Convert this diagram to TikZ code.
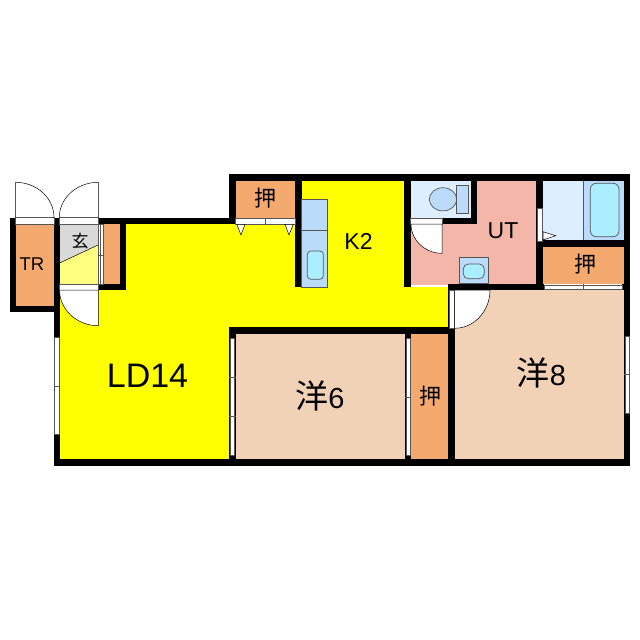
\documentclass[tikz,border=0pt]{standalone}
\usepackage{fontspec}
\setmainfont{Liberation Sans}
\newfontfamily\cjk{Noto Sans CJK JP}
\definecolor{ldyellow}{HTML}{FFFF00}
\definecolor{paleyellow}{HTML}{FFFF80}
\definecolor{closet}{HTML}{F4AA6E}
\definecolor{peach}{HTML}{F2D2B6}
\definecolor{pinkroom}{HTML}{F4B6A8}
\definecolor{grayfloor}{HTML}{D9D9D9}
\definecolor{palefloor}{HTML}{DDEFFF}
\definecolor{fixture}{HTML}{BBDBFB}
\definecolor{basin}{HTML}{AAEEFF}
\definecolor{linegray}{HTML}{555555}
\tikzset{
  wall/.style={fill=black,draw=none},
  fixt/.style={fill=fixture,draw=linegray,line width=.7pt},
  bowl/.style={fill=basin,draw=linegray,line width=.7pt,rounded corners=3.5pt},
  doorleaf/.style={fill=white,draw=black,line width=.5pt},
  opening/.style={fill=white,draw=linegray,line width=.5pt},
  sash/.style={fill=white,draw=linegray,line width=1pt},
  label/.style={inner sep=0pt,text=black,font=\fontsize{#1}{#1}\selectfont},
  label/.default=21
}
\begin{document}
\begin{tikzpicture}[x=1pt,y=-1pt]
\useasboundingbox (0,0) rectangle (640,640);
% floors
\fill[ldyellow] (60,284) -- (126,284) -- (126,224) -- (295,224) -- (295,181) -- (404,181) -- (404,287) -- (449,287) -- (449,330) -- (232,330) -- (232,459) -- (60,459) -- cycle;
\fill[closet] (16,224) rectangle (54,306);
\fill[closet] (104,224) rectangle (120,284);
\fill[closet] (235,180) rectangle (296,219);
\fill[closet] (411,334) rectangle (449,459);
\fill[closet] (543,246) rectangle (624,284);
\fill[grayfloor] (59,224) rectangle (98,284);
\fill[paleyellow] (59,263.3) -- (98,245) -- (98,284) -- (59,284) -- cycle;
\draw[black,line width=.5pt] (59,263.3) -- (98,245);
\fill[peach] (235,334) rectangle (406,459);
\fill[peach] (455,290) rectangle (625,459);
\fill[pinkroom] (411,180) rectangle (537,285);
\fill[palefloor] (411,180) rectangle (471,218);
\fill[palefloor] (543,180) rectangle (583.5,240);
\fill[fixture] (583.5,180) rectangle (624,240);
\draw[linegray,line width=.7pt] (583.5,181) -- (583.5,240);
% walls
\fill[wall] (9.5,217.5) rectangle (16,312.3);
\fill[wall] (9.5,306) rectangle (60,312.3);
\fill[wall] (53.5,217.5) rectangle (60,337);
\fill[wall] (98,217.5) rectangle (235.7,224);
\fill[wall] (119.7,217.5) rectangle (126,290);
\fill[wall] (98,284) rectangle (126,290);
\fill[wall] (229,174) rectangle (630,180.7);
\fill[wall] (229,174) rectangle (235.7,224);
\fill[wall] (295,174) rectangle (301.7,287.3);
\fill[wall] (404.3,174) rectangle (411,287.3);
\fill[wall] (470.7,174) rectangle (477.3,224);
\fill[wall] (442,218) rectangle (477.3,224);
\fill[wall] (536,174) rectangle (543,290);
\fill[wall] (543,240) rectangle (630,246.5);
\fill[wall] (448.3,283.5) rectangle (544,290);
\fill[wall] (622,283.5) rectangle (630,290);
\fill[wall] (624,174) rectangle (630,465.7);
\fill[wall] (229,327.3) rectangle (455,334);
\fill[wall] (229,327.3) rectangle (235.7,465.7);
\fill[wall] (405,327.3) rectangle (411,465.7);
\fill[wall] (448.3,283.5) rectangle (455,465.7);
\fill[wall] (53.5,434) rectangle (60,465.7);
\fill[wall] (53.5,459) rectangle (630,465.7);
% exterior and interior door openings
\draw[opening] (15.5,217.7) rectangle (54,224);
\draw[opening] (59.3,217.7) rectangle (98.3,224);
\draw[opening] (59.3,284) rectangle (98.3,290);
\draw[opening] (410.5,218.3) rectangle (442,224);
\draw[opening] (537.2,208.3) rectangle (542.2,241.7);
\draw[opening] (449,290) rectangle (454.5,328);
\draw[opening] (235.7,218.5) rectangle (265,224.3);
\draw[opening] (265,218.5) rectangle (295,224.3);
% door leaves
\draw[doorleaf,fill=none] (54,217.5) .. controls (54,198.1) and (36.8,182.3) .. (15.5,182.3) -- (15.5,217.5);
\draw[doorleaf,fill=none] (59.3,217.5) .. controls (59.3,198.1) and (76.8,182.3) .. (98.3,182.3) -- (98.3,217.5);
\draw[doorleaf] (59.5,290) .. controls (59.5,309.7) and (76.9,325.7) .. (98.3,325.7) -- (98.3,290) -- cycle;
\draw[doorleaf] (411,224) .. controls (411,240.2) and (424.9,253.3) .. (442,253.3) -- (442,224) -- cycle;
\draw[doorleaf] (490,290) .. controls (490,311.2) and (474.1,328.3) .. (454.5,328.3) -- (454.5,290) -- cycle;
% door stops
\draw[doorleaf] (236.7,224.3) -- (245,224.3) -- (241,235) -- cycle;
\draw[doorleaf] (285,224.3) -- (293.3,224.3) -- (289,235) -- cycle;
\draw[doorleaf] (543,231.7) -- (555.7,235.7) -- (543,240) -- cycle;
% windows
\draw[opening] (98.5,224) rectangle (103.7,284);
\draw[linegray,line width=.6pt] (100.5,224) -- (100.5,284) (98,255) -- (103.7,255);
\draw[sash] (54.5,337) rectangle (59,434);
\draw[linegray,line width=.6pt] (53.5,386) -- (60,386);
\draw[sash] (230,338) rectangle (234.8,455);
\draw[linegray,line width=.6pt] (229,377) -- (235.7,377) (229,416) -- (235.7,416);
\draw[sash] (406,338) rectangle (410.2,455);
\draw[linegray,line width=.6pt] (405,397) -- (411,397);
\draw[sash] (625,336) rectangle (629.2,413);
\draw[linegray,line width=.6pt] (624,374) -- (630,374);
\draw[sash] (544,285) rectangle (622,289);
\draw[linegray,line width=.6pt] (583.5,283.5) -- (583.5,290);
% kitchen counter
\draw[fixt] (301.7,199.3) rectangle (327.3,287.3);
\draw[fixt] (301.7,230) -- (327.3,230);
\draw[bowl] (307.3,251) rectangle (323.3,279.3);
% toilet
\draw[fixt] (443,199.3) ellipse[x radius=13.7,y radius=11.6];
\draw[fixt] (456.7,185.7) rectangle (468.3,213.3);
% wash basin
\draw[fixt] (459,257.7) rectangle (488.3,283.5);
\draw[bowl,rounded corners=5pt] (463.3,264) rectangle (484.3,278.7);
% bath tub
\draw[bowl,rounded corners=6pt] (590.3,183.3) rectangle (619,236.7);
% labels
\node[label=18.5] (tr) at (32,264) {TR};
\node[label=17] (entry) at (80,241) {\cjk 玄};
\node[label=22] (closetA) at (265,198) {\cjk 押};
\node[label=23] (k2) at (358.5,241) {K2};
\node[label=23] (ut) at (503,231) {UT};
\node[label=22] (closetB) at (585.5,264) {\cjk 押};
\node[label=34] (ld) at (147.5,375.5) {LD14};
\node[label=29] (rA) at (320,396) {{\cjk\fontsize{33}{33}\selectfont 洋}6};
\node[label=22] (closetC) at (430,396) {\cjk 押};
\node[label=29] (rB) at (541.5,373) {{\cjk\fontsize{33}{33}\selectfont 洋}8};
\end{tikzpicture}
\end{document}
